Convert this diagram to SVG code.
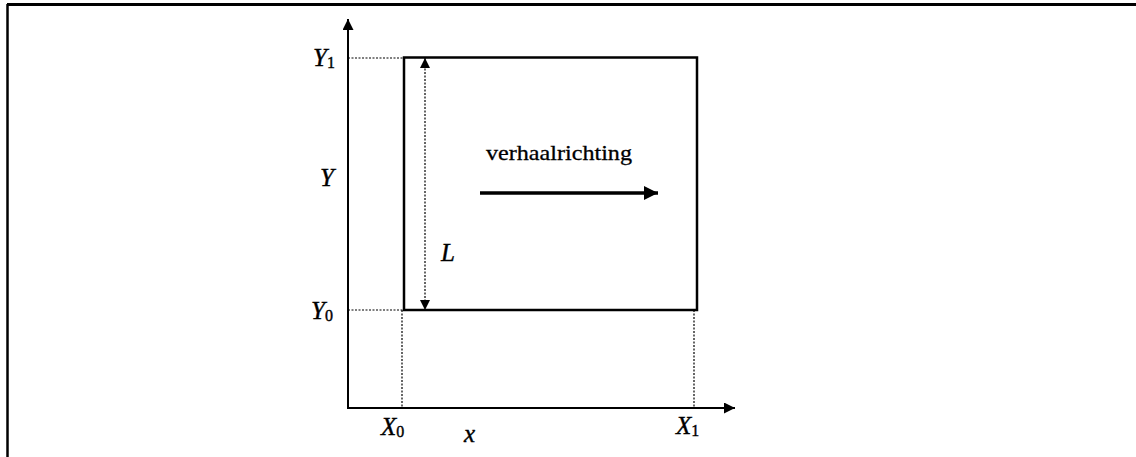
<svg xmlns="http://www.w3.org/2000/svg" width="1136" height="457" viewBox="0 0 1136 457">
  <style>
    .solid { stroke: #000; fill: none; }
    .dot { stroke: #000; stroke-width: 1.2; stroke-dasharray: 2 1.5; fill: none; }
    .lbl { font-family: "Liberation Serif", "Times New Roman", serif; font-style: italic; font-size: 25px; fill: #000; stroke: #000; stroke-width: 0.4; }
    .sub { font-family: "Liberation Serif", "Times New Roman", serif; font-style: normal; font-size: 16px; }
    .txt { font-family: "Liberation Serif", "Times New Roman", serif; font-size: 22px; fill: #000; stroke: #000; stroke-width: 0.3; }
  </style>
  <defs>
    <marker id="ah" viewBox="0 0 10 10" refX="10" refY="5" markerWidth="11" markerHeight="11" markerUnits="userSpaceOnUse" orient="auto">
      <path d="M0,0 L10,5 L0,10 Z" fill="#000"/>
    </marker>
    <marker id="ahL" viewBox="0 0 10 10" refX="10" refY="5" markerWidth="10" markerHeight="12" markerUnits="userSpaceOnUse" orient="auto-start-reverse">
      <path d="M0,0 L10,5 L0,10 Z" fill="#000"/>
    </marker>
    <marker id="ahBig" viewBox="0 0 10 10" refX="10" refY="5" markerWidth="14" markerHeight="14" markerUnits="userSpaceOnUse" orient="auto">
      <path d="M0,0 L10,5 L0,10 Z" fill="#000"/>
    </marker>
  </defs>
  <rect width="1136" height="457" fill="#fff"/>

  <g id="frame">
    <line class="solid" x1="7" y1="4.5" x2="1136" y2="4.5" stroke-width="3"/>
    <line class="solid" x1="7.5" y1="4" x2="7.5" y2="457" stroke-width="2.5"/>
  </g>

  <g id="connectors">
    <line id="y-axis" class="solid" stroke-width="2" x1="348" y1="408" x2="348" y2="19" marker-end="url(#ah)"/>
    <line id="x-axis" class="solid" stroke-width="2" x1="347" y1="408" x2="735" y2="408" marker-end="url(#ah)"/>
    <line class="dot" x1="348" y1="58" x2="404" y2="58"/>
    <line class="dot" x1="348" y1="310" x2="403" y2="310"/>
    <line class="dot" x1="402" y1="310" x2="402" y2="408"/>
    <line class="dot" x1="694" y1="310" x2="694" y2="408"/>
    <line id="L-dim" class="dot" x1="425" y1="58" x2="425" y2="310" marker-start="url(#ahL)" marker-end="url(#ahL)"/>
    <line id="dir-arrow" class="solid" stroke-width="3.5" x1="480" y1="193" x2="658" y2="193" marker-end="url(#ahBig)"/>
  </g>

  <g id="area">
    <rect class="solid" stroke-width="2.5" x="404" y="57.5" width="293" height="252.5"/>
  </g>

  <g id="labels">
    <text class="lbl" x="313" y="66">Y<tspan class="sub" dy="2">1</tspan></text>
    <text class="lbl" x="320" y="186">Y</text>
    <text class="lbl" x="311" y="319">Y<tspan class="sub" dy="2">0</tspan></text>
    <text class="lbl" x="381" y="435">X<tspan class="sub" dy="2">0</tspan></text>
    <text class="lbl" x="464" y="442">x</text>
    <text class="lbl" x="676" y="434">X<tspan class="sub" dy="2">1</tspan></text>
    <text class="lbl" x="441" y="261">L</text>
    <text class="txt" x="486" y="160" textLength="146" lengthAdjust="spacingAndGlyphs">verhaalrichting</text>
  </g>
</svg>
